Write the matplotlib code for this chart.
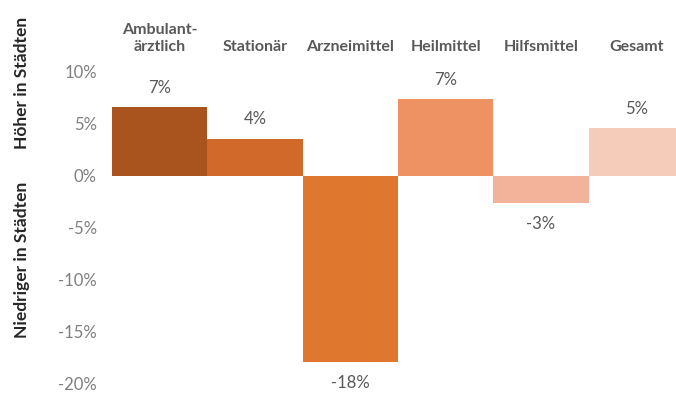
import matplotlib
matplotlib.use("Agg")
import matplotlib.pyplot as plt
from matplotlib.ticker import FuncFormatter

categories = ["Ambulant-\närztlich", "Stationär", "Arzneimittel", "Heilmittel", "Hilfsmittel", "Gesamt"]
values = [0.066, 0.036, -0.179, 0.074, -0.026, 0.046]
value_labels = ["7%", "4%", "-18%", "7%", "-3%", "5%"]
colors = ["#A9531F", "#D0692A", "#E0772E", "#EE9264", "#F2B39A", "#F5CBB9"]
yticks = [-0.20, -0.15, -0.10, -0.05, 0.0, 0.05, 0.10]

plt.rcParams['font.family'] = ['Lato', 'DejaVu Sans']

W, H = 676, 395
fig = plt.figure(figsize=(W / 100, H / 100), dpi=100)
left, right, top, bottom = 112, 684, 72, 384
ax = fig.add_axes([left / W, 1 - bottom / H, (right - left) / W, (bottom - top) / H])

x = range(len(categories))
ax.bar(x, values, width=1.0, color=colors, edgecolor='none')
ax.set_xlim(-0.5, len(categories) - 0.5)
ax.set_ylim(-0.20, 0.10)
ax.set_yticks(yticks)
ax.yaxis.set_major_formatter(FuncFormatter(lambda v, p: f"{round(v * 100):d}%"))
ax.tick_params(axis='y', length=0, pad=11, labelsize=12, labelcolor='#7F7F7F')
ax.set_xticks([])
for s in ax.spines.values():
    s.set_visible(False)

for i, (v, lab) in enumerate(zip(values, value_labels)):
    off = 14 if v >= 0 else -15
    ax.annotate(lab, (i, v), xytext=(0, off), textcoords='offset points',
                ha='center', va='center', fontsize=12, color='#595959')

for i, c in enumerate(categories):
    ax.text(i, 0.1175, c, ha='center', va='bottom', fontsize=11.5,
            fontweight='bold', color='#595959', linespacing=1.3, clip_on=False)

fig.text(22 / W, 1 - 83 / H, "Höher in Städten", rotation=90, ha='center', va='center',
         fontsize=12.5, fontweight='bold', color='#262626')
fig.text(22 / W, 1 - 260 / H, "Niedriger in Städten", rotation=90, ha='center', va='center',
         fontsize=12.5, fontweight='bold', color='#262626')

fig.savefig("out.png", dpi=100)
